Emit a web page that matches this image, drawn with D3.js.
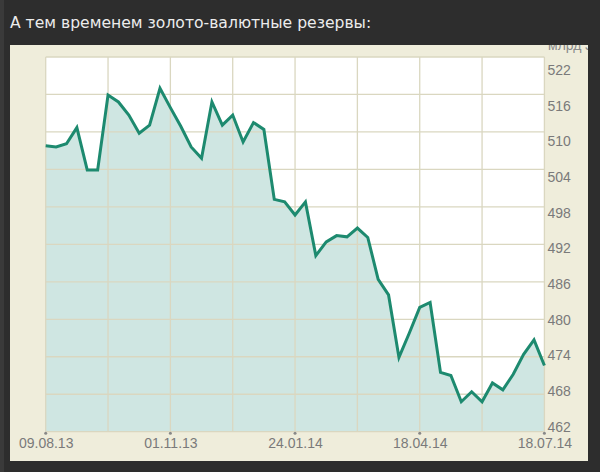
<!DOCTYPE html>
<html><head><meta charset="utf-8">
<script src="https://cdn.jsdelivr.net/npm/d3@7"></script>
<style>html,body{margin:0;padding:0;background:#2d2d2d;} svg{display:block}</style>
</head><body><svg id="c" width="600" height="472"></svg>
<script>
const titleText = "А тем временем золото-валютные резервы:";
const unitText = "млрд $";
const values = [507.8, 507.6, 508.1, 510.7, 503.9, 503.9, 515.9, 514.8, 512.7, 509.8,
  511.1, 517.0, 513.9, 510.9, 507.6, 505.8, 514.8, 511.1, 512.7, 508.4,
  511.5, 510.4, 499.2, 498.8, 496.7, 498.8, 490.2, 492.4, 493.4, 493.2,
  494.6, 493.1, 486.4, 483.9, 473.9, 477.8, 481.9, 482.7, 471.5, 471.0,
  466.8, 468.4, 466.8, 469.8, 468.7, 471.2, 474.4, 476.7, 472.6];
const xTickIndex = [0, 12, 24, 36, 48];
const xTickLabels = ["09.08.13", "01.11.13", "24.01.14", "18.04.14", "18.07.14"];
const xGridIndex = [0, 6, 12, 18, 24, 30, 36, 42, 48];
const yTicks = [462, 468, 474, 480, 486, 492, 498, 504, 510, 516, 522];

const svg = d3.select("#c");
const W = 600, H = 472;
const panel = {x: 10, y: 45, w: 578, h: 416};
const plot = {l: 45.7, r: 544.4, t: 57, b: 431.7};

svg.append("rect").attr("width", W).attr("height", H).attr("fill", "#2d2d2d");
svg.append("rect").attr("x", 0).attr("y", 0).attr("width", 4).attr("height", H).attr("fill", "#3a3a3a");

svg.append("text").attr("x", 10).attr("y", 28)
  .attr("font-family", "DejaVu Sans").attr("font-size", 15.6)
  .attr("fill", "#ececec").text(titleText);

svg.append("defs").append("clipPath").attr("id", "pclip")
  .append("rect").attr("x", panel.x).attr("y", panel.y).attr("width", panel.w).attr("height", panel.h);

const g = svg.append("g").attr("clip-path", "url(#pclip)");
g.append("rect").attr("x", panel.x).attr("y", panel.y).attr("width", panel.w).attr("height", panel.h)
  .attr("fill", "#efeddb");

const x = d3.scaleLinear().domain([0, values.length - 1]).range([plot.l, plot.r]);
const y = d3.scaleLinear().domain([462, 522]).range([plot.b, plot.t]);
const yLab = d3.scaleLinear().domain([462, 522]).range([426.7, 70]);

g.append("rect").attr("x", plot.l).attr("y", plot.t).attr("width", plot.r - plot.l).attr("height", plot.b - plot.t)
  .attr("fill", "#ffffff");

const area = d3.area().x((d, i) => x(i)).y0(y(462)).y1(d => y(d));
g.append("path").datum(values).attr("d", area).attr("fill", "#cfe6e2");

const grid = g.append("g").attr("stroke", "#dad7c0").attr("stroke-width", 1.3);
grid.selectAll("line.h").data(yTicks).join("line")
  .attr("x1", plot.l).attr("x2", plot.r).attr("y1", d => y(d)).attr("y2", d => y(d));
grid.selectAll("line.v").data(xGridIndex).join("line")
  .attr("y1", plot.t).attr("y2", plot.b).attr("x1", d => x(d)).attr("x2", d => x(d));

const line = d3.line().x((d, i) => x(i)).y(d => y(d));
g.append("path").datum(values).attr("d", line).attr("fill", "none")
  .attr("stroke", "#1d8a6f").attr("stroke-width", 3).attr("stroke-linejoin", "miter");

const yAxis = d3.axisRight(yLab).tickValues(yTicks).tickSize(0).tickPadding(1);
const ya = g.append("g").attr("transform", `translate(${plot.r + 2},0)`).call(yAxis);
ya.select(".domain").remove();
ya.selectAll("text").attr("font-family", "Liberation Sans, Arial, sans-serif").attr("font-size", 14).attr("fill", "#7a7a7a");

const xAxis = d3.axisBottom(x).tickValues(xTickIndex).tickSize(0).tickPadding(6)
  .tickFormat((d, i) => xTickLabels[i]);
const xa = g.append("g").attr("transform", `translate(0,${plot.b})`).call(xAxis);
xa.select(".domain").remove();
xa.selectAll("text").attr("font-family", "Liberation Sans, Arial, sans-serif").attr("font-size", 14).attr("fill", "#7a7a7a");

g.selectAll("circle.tk").data(xTickIndex).join("circle")
  .attr("cx", d => x(d)).attr("cy", plot.b + 1.5).attr("r", 1.5).attr("fill", "#888");

g.append("text").attr("x", 548).attr("y", 50)
  .attr("font-family", "Liberation Sans, Arial, sans-serif").attr("font-size", 14)
  .attr("fill", "#8a8a8a").text(unitText);
</script></body></html>
